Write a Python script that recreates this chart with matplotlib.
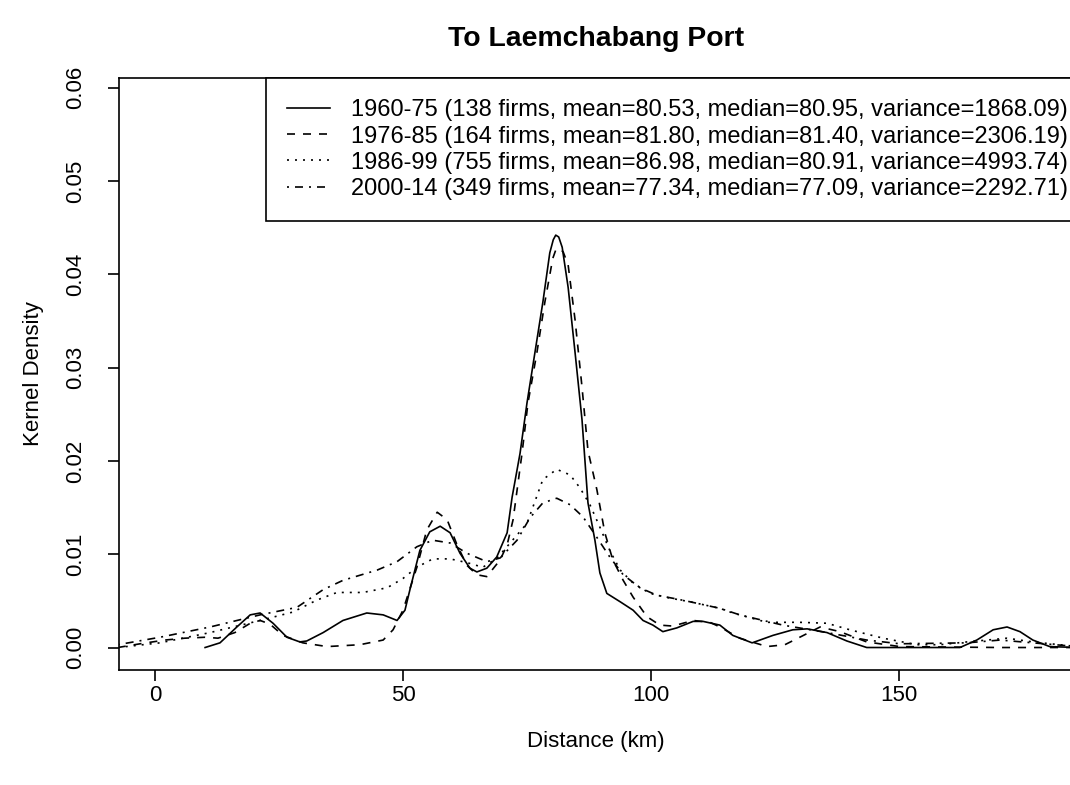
import matplotlib
matplotlib.use("Agg")
import matplotlib.pyplot as plt

plt.rcParams['font.family'] = ['Liberation Sans', 'DejaVu Sans']

# ---------------- data ----------------
x_1960 = [10.1, 13.1, 16.5, 19.2, 21.2, 23.8, 26.6, 29.2, 30.6, 33.9, 37.9, 42.7, 46.0, 48.8,
          50.4, 51.4, 53.4, 55.4, 57.5, 59.5, 61.5, 63.5, 64.9, 66.9, 68.9, 71.0, 72.0, 73.6,
          75.0, 76.6, 78.2, 79.6, 80.3, 80.8, 81.4, 82.1, 83.3, 84.7, 86.1, 87.3, 88.7, 89.7, 91.1, 93.8,
          96.4, 98.4, 100.4, 102.4, 105.2, 108.5, 110.5, 113.9, 116.5, 120.4, 124.6, 128.6,
          131.5, 135.5, 139.5, 143.5, 150.2, 162.3, 165.7, 169.0, 171.8, 174.4, 177.0, 180.4, 186.0]
y_1960 = [0.0000, 0.0005, 0.0022, 0.0035, 0.0037, 0.0026, 0.0011, 0.0006, 0.0007, 0.0016, 0.0029,
          0.0037, 0.0035, 0.0029, 0.0040, 0.0062, 0.0104, 0.0124, 0.0130, 0.0123, 0.0101, 0.0085,
          0.0081, 0.0085, 0.0097, 0.0123, 0.0161, 0.0208, 0.0262, 0.0316, 0.0370, 0.0423, 0.0437, 0.0442,
          0.0440, 0.0429, 0.0386, 0.0316, 0.0244, 0.0155, 0.0115, 0.0080, 0.0058, 0.0049, 0.0040, 0.0029,
          0.0024, 0.0017, 0.0021, 0.0028, 0.0028, 0.0024, 0.0013, 0.0005, 0.0013, 0.0019, 0.0020,
          0.0016, 0.0007, 0.0000, 0.0000, 0.0000, 0.0008, 0.0019, 0.0022, 0.0017, 0.0008, 0.0001, 0.0000]

x_1976 = [-7.5, -3.0, 2.0, 6.0, 10.1, 12.7, 16.1, 19.2, 21.2, 23.2, 25.8, 29.8, 34.7, 41.3, 46.0,
          48.0, 50.0, 52.8, 54.8, 56.9, 58.9, 60.9, 62.9, 64.9, 66.9, 69.6, 71.0, 72.2, 74.0, 75.2,
          77.0, 78.6, 80.2, 80.8, 81.5, 82.3, 83.3, 84.7, 86.1, 87.3, 89.1, 90.7, 92.3, 94.4, 96.4, 99.2, 101.8,
          104.4, 108.5, 111.9, 113.9, 117.9, 123.4, 127.0, 130.0, 134.1, 138.1, 143.5, 150.2, 170.4, 186.0]
y_1976 = [0.0000, 0.0004, 0.0008, 0.0010, 0.0011, 0.0010, 0.0016, 0.0026, 0.0029, 0.0025, 0.0013,
          0.0005, 0.0001, 0.0003, 0.0008, 0.0019, 0.0040, 0.0086, 0.0126, 0.0145, 0.0137, 0.0110,
          0.0088, 0.0078, 0.0076, 0.0094, 0.0110, 0.0137, 0.0208, 0.0262, 0.0316, 0.0370, 0.0417,
          0.0426, 0.0428, 0.0424, 0.0410, 0.0351, 0.0279, 0.0211, 0.0169, 0.0123, 0.0094, 0.0072, 0.0054, 0.0033,
          0.0024, 0.0023, 0.0029, 0.0027, 0.0022, 0.0010, 0.0001, 0.0003, 0.0011, 0.0022, 0.0017,
          0.0006, 0.0001, 0.0000, 0.0000]

x_1986 = [-7.5, 1.0, 11.1, 21.2, 27.8, 32.7, 36.7, 41.9, 46.8, 50.0, 52.8, 56.0, 59.5, 62.9, 66.1,
          69.0, 71.6, 75.0, 78.2, 81.0, 83.7, 85.7, 87.7, 89.7, 91.7, 93.8, 96.4, 99.8, 103.8, 107.9,
          113.9, 116.5, 123.4, 130.0, 135.5, 140.1, 146.8, 153.6, 158.3, 163.7, 171.8, 177.0, 186.0]
y_1986 = [0.0000, 0.0005, 0.0016, 0.0029, 0.0038, 0.0051, 0.0059, 0.0059, 0.0064, 0.0074, 0.0086,
          0.0095, 0.0095, 0.0091, 0.0086, 0.0096, 0.0112, 0.0133, 0.0180, 0.0191, 0.0185, 0.0171,
          0.0153, 0.0129, 0.0104, 0.0083, 0.0069, 0.0058, 0.0053, 0.0049, 0.0042, 0.0037, 0.0027,
          0.0027, 0.0026, 0.0019, 0.0010, 0.0003, 0.0003, 0.0006, 0.0010, 0.0006, 0.0001]

x_2000 = [-7.5, 1.0, 11.1, 21.2, 28.6, 33.9, 37.9, 44.8, 48.8, 52.8, 56.0, 59.5, 62.9, 66.9, 69.6,
          73.0, 75.6, 78.2, 81.0, 83.7, 86.3, 89.1, 91.7, 94.4, 97.8, 101.2, 105.2, 107.9, 113.9,
          117.9, 126.6, 135.5, 143.5, 150.2, 163.7, 170.4, 177.0, 186.0]
y_2000 = [0.0003, 0.0011, 0.0022, 0.0035, 0.0043, 0.0062, 0.0072, 0.0083, 0.0092, 0.0108, 0.0115,
          0.0112, 0.0101, 0.0092, 0.0096, 0.0115, 0.0139, 0.0155, 0.0160, 0.0153, 0.0140, 0.0118,
          0.0097, 0.0078, 0.0064, 0.0056, 0.0052, 0.0049, 0.0042, 0.0035, 0.0024, 0.0016, 0.0008,
          0.0004, 0.0005, 0.0008, 0.0005, 0.0001]

labels = [
    "1960-75 (138 firms, mean=80.53, median=80.95, variance=1868.09)",
    "1976-85 (164 firms, mean=81.80, median=81.40, variance=2306.19)",
    "1986-99 (755 firms, mean=86.98, median=80.91, variance=4993.74)",
    "2000-14 (349 firms, mean=77.34, median=77.09, variance=2292.71)",
]
x_ticks = [0, 50, 100, 150]
y_ticks = [0.00, 0.01, 0.02, 0.03, 0.04, 0.05, 0.06]
title = "To Laemchabang Port"
x_label = "Distance (km)"
y_label = "Kernel Density"

# ---------------- figure ----------------
W, H = 1070, 785
fig = plt.figure(figsize=(W / 100, H / 100), dpi=100)
L, R, T, B = 119, 1075, 78, 670
ax = fig.add_axes([L / W, 1 - B / H, (R - L) / W, (B - T) / H])

lw = 1.2
styles = [
    dict(linestyle='-'),
    dict(linestyle=(0, (4.8, 4.8))),
    dict(linestyle=(0, (1.2, 3.6))),
    dict(linestyle=(0, (1.2, 3.6, 4.8, 3.6))),
]
series = [(x_1960, y_1960), (x_1976, y_1976), (x_1986, y_1986), (x_2000, y_2000)]
handles = []
for (xs, ys), st, lab in zip(series, styles, labels):
    ln, = ax.plot(xs, ys, color='black', lw=lw, solid_joinstyle='round',
                  dash_joinstyle='round', **st, label=lab)
    handles.append(ln)

ax.set_xlim(-7.26, 185.5)
ax.set_ylim(-0.00241, 0.06104)
ax.set_xticks(x_ticks)
ax.set_xticklabels([str(v) for v in x_ticks])
ax.set_yticks(y_ticks)
ax.set_yticklabels([f"{v:.2f}" for v in y_ticks])

for s in ax.spines.values():
    s.set_linewidth(1.2)
    s.set_color('black')

ax.tick_params(axis='both', direction='out', length=8, width=1.2, labelsize=16, colors='black')
ax.tick_params(axis='x', pad=3)
ax.tick_params(axis='y', pad=16)
for lab in ax.get_yticklabels():
    lab.set_rotation(90)
    lab.set_va('center')

fig.text(596 / W, 1 - 39 / H, title, ha='center', va='center', fontsize=20.4, fontweight='bold')
fig.text(596 / W, 1 - 742 / H, x_label, ha='center', va='center', fontsize=16)
fig.text(33 / W, 1 - 374 / H, y_label, ha='center', va='center', fontsize=16, rotation=90)

leg = ax.legend(handles=handles, loc='upper left', bbox_to_anchor=(266 / W, 1 - 78 / H),
                bbox_transform=fig.transFigure, borderaxespad=0, fontsize=17,
                frameon=True, fancybox=False, edgecolor='black', framealpha=1,
                borderpad=0.9, labelspacing=0.18, handlelength=1.8, handletextpad=0.9)
leg.get_frame().set_linewidth(1.2)

fig.savefig("out.png", dpi=100)
